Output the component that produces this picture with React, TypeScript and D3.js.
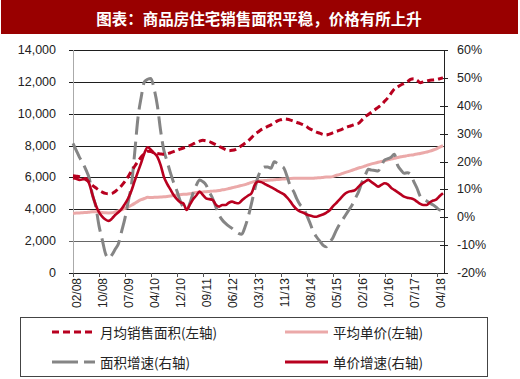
import React from "react";
import * as d3 from "d3";

const title = "图表：商品房住宅销售面积平稳，价格有所上升";

// categories: Feb–Dec each year (Jan merged), 2008/02 – 2018/06
const categories: string[] = [];
for (let y = 2008; y <= 2018; y++) {
  for (let m = 2; m <= 12; m++) {
    if (y === 2018 && m > 6) break;
    categories.push(`${String(m).padStart(2, "0")}/${String(y % 100).padStart(2, "0")}`);
  }
}

const leftTicks = [0, 2000, 4000, 6000, 8000, 10000, 12000, 14000];
const rightTicks = [-20, -10, 0, 10, 20, 30, 40, 50, 60];
const tickEvery = 8;

// 月均销售面积 (左轴)
const areaAvg = [
  6100, 6080, 6050, 5950, 5850, 5700, 5500, 5350, 5200, 5080, 5000, 4980, 5000, 5120, 5300, 5500,
  5750, 6050, 6400, 6700, 7000, 7280, 7500, 7650, 7620, 7550, 7500, 7470, 7450, 7480, 7550, 7620,
  7700, 7780, 7850, 7900, 8000, 8100, 8200, 8280, 8330, 8300, 8250, 8150, 8050, 7950, 7850, 7750,
  7680, 7700, 7750, 7870, 8000, 8150, 8300, 8500, 8700, 8850, 9000, 9100, 9200, 9300, 9420, 9550,
  9620, 9670, 9650, 9600, 9530, 9450, 9380, 9300, 9180, 9050, 8950, 8850, 8780, 8700, 8660, 8720,
  8800, 8880, 8950, 9030, 9120, 9200, 9270, 9340, 9400, 9600, 9800, 9950, 10100, 10250, 10400, 10550,
  10780, 11000, 11280, 11550, 11680, 11800, 11900, 12000, 12150, 12200, 12100, 11950, 12000, 12050, 12100, 12120,
  12150, 12200, 12250,
];

// 平均单价 (左轴)
const priceAvg = [
  3750, 3760, 3770, 3790, 3800, 3820, 3840, 3850, 3830, 3800, 3780, 3770, 3780, 3830, 3900, 3970,
  4050, 4150, 4250, 4370, 4500, 4600, 4680, 4750, 4740, 4750, 4760, 4770, 4780, 4800, 4830, 4870,
  4900, 4920, 4940, 4950, 4980, 5020, 5050, 5070, 5090, 5100, 5120, 5140, 5150, 5180, 5220, 5250,
  5300, 5350, 5400, 5450, 5500, 5550, 5620, 5690, 5750, 5770, 5790, 5800, 5820, 5840, 5850, 5870,
  5890, 5900, 5920, 5940, 5950, 5950, 5950, 5950, 5950, 5950, 5950, 5970, 5980, 6000, 6020, 6030,
  6050, 6120, 6180, 6250, 6320, 6380, 6450, 6520, 6590, 6650, 6720, 6790, 6850, 6900, 6950, 7000,
  7050, 7100, 7150, 7200, 7250, 7300, 7330, 7370, 7400, 7430, 7470, 7500, 7550, 7600, 7650, 7720,
  7800, 7900, 8000,
];

// 面积增速 (右轴, %)
const areaGrowth = [
  26.5, 24, 21.5, 19.5, 17, 14, 8, 4, -3, -8, -13, -14.7, -13.5, -11.5, -9.5, -5,
  -0.4, 5.5, 11.6, 23, 35.5, 43, 48.6, 49.5, 49.8, 46, 40, 31, 24, 20, 16, 12.5,
  9.5, 6, 3.5, 2.6, 5, 8.7, 11.5, 13.4, 12.8, 11.6, 9, 6.8, 3.8, 0.8, -1, -2.2,
  -3.2, -4, -5, -5.8, -6.1, -3.5, 0.2, 5, 10, 14.5, 17, 18, 18, 17.6, 19.9, 19.3,
  18.5, 17.6, 14.5, 11, 9.2, 6.5, 4.4, 3.2, 0.8, -2, -5, -7, -8.5, -10, -10.6, -9,
  -7.5, -5, -2.8, -1, 0.8, 2.6, 4.4, 6.8, 9.2, 12.5, 15, 17.2, 16.9, 16.8, 16.6, 18.5,
  20.5, 21, 21.5, 22.6, 18.7, 17, 15.8, 16, 15.5, 12.8, 10.4, 7.5, 6.5, 5.8, 5, 4.4,
  3.5, 2.6, 2.5,
];

// 单价增速 (右轴, %)
const priceGrowth = [
  14, 13.8, 13.4, 13.6, 14, 12, 8, 4.4, 1.8, 0.2, -0.8, -1.3, -0.5, 0.8, 1.8, 3,
  4.8, 6.8, 9.5, 13, 16.3, 19.5, 23, 25.1, 24.2, 23, 21.7, 18.7, 14.5, 12, 10, 8,
  6.5, 5.4, 5, 2.6, 4.5, 6.5, 7.8, 9.2, 8, 6.8, 6.5, 6.2, 4.5, 3.8, 4.4, 4.4,
  5.2, 5.6, 5.2, 5, 6, 7, 7.8, 8.6, 11.6, 12.8, 12.6, 12, 11.4, 10.8, 10.2, 9.5,
  8.8, 8.2, 7, 5.6, 4, 2.8, 2, 1.6, 1, 0.6, 0.3, 0.2, 0.6, 1, 1.6, 2.4,
  3.8, 5, 6.2, 7.5, 8.6, 9.2, 9.4, 9.8, 11, 12, 12.8, 13.4, 12.6, 11.8, 11, 11.6,
  12.2, 11.8, 10.6, 9.8, 9, 8.2, 7.4, 7, 6.8, 6.4, 5.6, 4.8, 4.4, 4.4, 5.4, 6,
  6.4, 7.6, 8.6,
];

const legendItems = [
  { label: "月均销售面积(左轴)", color: "#B8001F", dash: "7,4", w: 3 },
  { label: "平均单价(左轴)", color: "#EBA9A9", dash: "", w: 3 },
  { label: "面积增速(右轴)", color: "#858585", dash: "26,6", w: 3 },
  { label: "单价增速(右轴)", color: "#B8001F", dash: "", w: 3 },
];

export default function App() {
  const W = 520, H = 379;
  const x0 = 73, x1 = 443, axR = 444, yTop = 50, yBot = 273;
  const x = d3.scalePoint<number>().domain(d3.range(categories.length)).range([x0, x1]);
  const yL = d3.scaleLinear().domain([0, 14000]).range([yBot, yTop]);
  const yR = d3.scaleLinear().domain([-20, 60]).range([yBot, yTop]);
  const lineL = d3.line<number>().x((_, i) => x(i)!).y((d) => yL(d)).curve(d3.curveMonotoneX);
  const lineR = d3.line<number>().x((_, i) => x(i)!).y((d) => yR(d)).curve(d3.curveMonotoneX);
  const fmt = d3.format(",");
  const axisFont = "'Liberation Sans', Arial, sans-serif";
  const cjk = "'Noto Sans CJK SC', sans-serif";
  const tickIdx = d3.range(0, categories.length, tickEvery).filter((i) => i <= 112);

  return (
    <svg width={W} height={H} style={{ position: "absolute", left: 0, top: 0, background: "#fff" }}>
      <rect x={1} y={0} width={517} height={34} fill="#990000" />
      <text x={259} y={18} fill="#fff" fontFamily={cjk} fontWeight="bold" fontSize={15.5}
        textAnchor="middle" dominantBaseline="central">{title}</text>

      {leftTicks.map((t) => (
        <g key={t}>
          <line x1={69} x2={axR} y1={Math.round(yL(t)) + 0.5} y2={Math.round(yL(t)) + 0.5}
            stroke={t === 2000 ? "#666" : "#1e1e1e"} strokeWidth={1} />
          <text x={56} y={yL(t)} textAnchor="end" dominantBaseline="central"
            fontFamily={axisFont} fontSize={12.5} fill="#222">{fmt(t)}</text>
        </g>
      ))}
      <line x1={x0 + 0.5} x2={x0 + 0.5} y1={yTop} y2={yBot} stroke="#aaa" strokeWidth={1} />
      <line x1={axR + 0.5} x2={axR + 0.5} y1={yTop} y2={yBot} stroke="#222" strokeWidth={1} />
      {rightTicks.map((t) => (
        <g key={t}>
          <line x1={440} x2={448} y1={Math.round(yR(t)) + 0.5} y2={Math.round(yR(t)) + 0.5} stroke="#222" />
          <text x={457} y={yR(t)} dominantBaseline="central" fontFamily={axisFont}
            fontSize={12.5} fill="#222">{`${t}%`}</text>
        </g>
      ))}
      {tickIdx.map((i) => (
        <g key={i}>
          <line x1={Math.round(x(i)!) + 0.5} x2={Math.round(x(i)!) + 0.5} y1={yBot} y2={yBot + 4} stroke="#555" />
          <text transform={`translate(${x(i)! + 4},${yBot + 5}) rotate(-90)`} textAnchor="end"
            dominantBaseline="central" fontFamily={axisFont} fontSize={12} fill="#222">{categories[i]}</text>
        </g>
      ))}

      <path d={lineL(priceAvg)!} fill="none" stroke={legendItems[1].color} strokeWidth={3} />
      <path d={lineR(areaGrowth)!} fill="none" stroke={legendItems[2].color} strokeWidth={3}
        strokeDasharray="18,7" />
      <path d={lineR(priceGrowth)!} fill="none" stroke={legendItems[3].color} strokeWidth={2.6} />
      <path d={lineL(areaAvg)!} fill="none" stroke={legendItems[0].color} strokeWidth={3}
        strokeDasharray="7,4" />

      <rect x={20.5} y={317.5} width={467} height={59} fill="#fff" stroke="#444" strokeWidth={1} />
      {legendItems.map((it, k) => {
        const lx = k % 2 === 0 ? 52 : 285;
        const ly = k < 2 ? 332 : 362;
        return (
          <g key={it.label}>
            <line x1={lx} x2={lx + 43} y1={ly} y2={ly} stroke={it.color} strokeWidth={it.w}
              strokeDasharray={it.dash || undefined} />
            <text x={lx + 48} y={ly} dominantBaseline="central" fontFamily={cjk} fontSize={13.5}
              fill="#222">{it.label}</text>
          </g>
        );
      })}
    </svg>
  );
}
